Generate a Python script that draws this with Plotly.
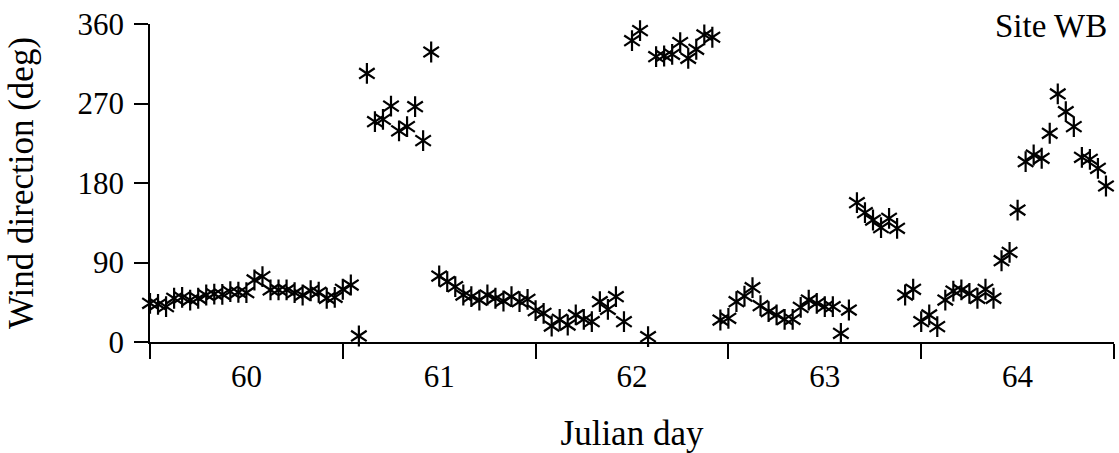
import plotly.graph_objects as go

# Hourly wind direction (deg), one list per Julian day (hours 0..23)
dir_day60 = [43.8, 42.7, 40.0, 49.5, 50.6, 47.5, 49.5, 53.2, 54.3, 54.0, 57.0, 56.3,
             55.8, 70.2, 74.0, 58.9, 58.9, 58.9, 55.8, 53.2, 58.0, 56.3, 49.5, 50.6]
dir_day61 = [59.7, 64.5, 6.8, 304.0, 249.4, 252.0, 267.0, 239.0, 243.8, 266.4, 228.0, 328.3,
             74.7, 68.3, 62.6, 53.2, 51.3, 47.5, 53.2, 49.5, 46.4, 51.3, 45.6, 48.3]
dir_day62 = [35.5, 32.5, 18.1, 25.7, 19.2, 30.6, 25.7, 23.0, 45.6, 37.0, 51.3, 23.0,
             341.1, 352.5, 6.0, 323.0, 323.8, 325.7, 338.9, 321.2, 331.4, 347.6, 345.0, 24.9]
dir_day63 = [26.8, 45.6, 52.0, 61.5, 41.1, 34.3, 30.6, 25.7, 25.7, 39.2, 47.5, 43.8,
             40.0, 40.0, 9.8, 36.2, 157.7, 146.4, 138.1, 129.4, 140.0, 128.7, 53.2, 59.7]
dir_day64 = [23.0, 30.6, 17.4, 47.5, 57.7, 58.9, 55.1, 49.5, 59.7, 49.5, 92.0, 101.5,
             149.4, 204.1, 211.7, 208.0, 236.3, 280.8, 260.7, 243.8, 209.1, 206.8, 196.6, 176.6]

days = [60, 61, 62, 63, 64]
day_dirs = [dir_day60, dir_day61, dir_day62, dir_day63, dir_day64]
day_labels = ["60", "61", "62", "63", "64"]
y_ticks = [0, 90, 180, 270, 360]

t = []
wd = []
for d, vals in zip(days, day_dirs):
    for h, v in enumerate(vals):
        t.append(d + h / 24.0)
        wd.append(v)

FONT = "Liberation Serif"
fig = go.Figure()
for sym in ["y-up-open", "y-down-open"]:
    fig.add_trace(go.Scatter(
        x=t, y=wd, mode="markers", cliponaxis=False, showlegend=False,
        hoverinfo="skip",
        marker=dict(symbol=sym, size=13, color="black",
                    line=dict(color="black", width=2.2)),
    ))

fig.update_layout(
    width=1119, height=453,
    margin=dict(l=150, r=5, t=24, b=111),
    paper_bgcolor="white", plot_bgcolor="white",
    font=dict(family=FONT, size=30, color="black"),
    xaxis=dict(
        range=[days[0], days[-1] + 1],
        automargin=False,
        tickmode="array",
        tickvals=[d + 0.5 for d in days],
        ticktext=day_labels,
        ticks="outside", ticklen=6, tickcolor="rgba(0,0,0,0)",
        tickfont=dict(family=FONT, size=31),
        showline=True, linecolor="black", linewidth=1.8,
        showgrid=False, zeroline=False,
        minor=dict(tickmode="array", tickvals=days + [days[-1] + 1],
                   ticks="outside", ticklen=15, tickwidth=1.8, tickcolor="black",
                   showgrid=False),
        title=dict(text="Julian day", standoff=46, font=dict(family=FONT, size=35)),
    ),
    yaxis=dict(
        range=[0, 360],
        automargin=False,
        tickmode="array", tickvals=y_ticks,
        ticks="outside", ticklen=14, tickwidth=1.8, tickcolor="black",
        ticklabelstandoff=4,
        tickfont=dict(family=FONT, size=31),
        showline=True, linecolor="black", linewidth=1.8,
        showgrid=False, zeroline=False,
        title=dict(text="Wind direction (deg)", standoff=33, font=dict(family=FONT, size=35)),
    ),
    annotations=[dict(text="Site WB", xref="paper", yref="paper", x=1, y=1,
                      xanchor="right", yanchor="middle", xshift=-5, yshift=-2,
                      showarrow=False,
                      font=dict(family=FONT, size=33, color="black"))],
)

fig.write_html("out.html", config={"displayModeBar": False},
               post_script="document.body.style.margin='0px';")
